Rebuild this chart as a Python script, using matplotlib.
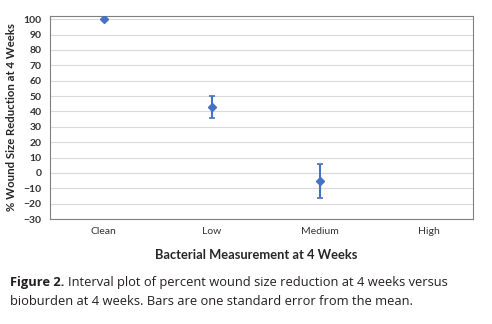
import numpy as np
import matplotlib.pyplot as plt

# data
categories = ['Clean', 'Low', 'Medium', 'High']
means = [100, 43, -5, np.nan]
std_err = [0, 7, 11, np.nan]
yticks = list(range(-30, 101, 10))

plt.rcParams['font.family'] = ['Lato', 'DejaVu Sans']

fig = plt.figure(figsize=(4.92, 3.24), dpi=100)
ax = fig.add_axes([0.1016, 0.324, 0.8594, 0.627])

x = np.arange(len(categories))
ax.errorbar(x, means, yerr=std_err, fmt='D', color='#4472C4', markersize=4.5,
            elinewidth=1.5, capsize=2.5, capthick=1.2, zorder=3)

ax.set_xlim(-0.495, 3.41)
ax.set_ylim(-30, 102.2)
ax.set_yticks(yticks)
ax.set_xticks(x)
ax.set_xticklabels(categories)
ax.yaxis.grid(True, color='#d9d9d9', linewidth=0.8)
ax.set_axisbelow(True)
for s in ax.spines.values():
    s.set_color('#808080')
    s.set_linewidth(0.8)
ax.tick_params(axis='both', length=0, colors='#333333')
ax.tick_params(axis='y', labelsize=7.5, pad=6)
ax.tick_params(axis='x', labelsize=7.5, pad=6)
for lab in ax.get_yticklabels():
    lab.set_fontweight('bold')

ax.set_ylabel('% Wound Size Reduction at 4 Weeks', fontsize=8.2, fontweight='bold',
              color='#262626', labelpad=5)
fig.text(0.52, 0.213, 'Bacterial Measurement at 4 Weeks', ha='center', va='center',
         fontsize=9.3, fontweight='bold', color='#262626')

cap_font = ['Open Sans', 'DejaVu Sans']
t1 = fig.text(0.02, 0.127, 'Figure 2.', fontsize=9.3, fontweight='bold', color='#231f20',
              va='center', family=cap_font)
fig.canvas.draw()
bb = t1.get_window_extent().transformed(fig.transFigure.inverted())
fig.text(bb.x1 + 0.008, 0.127, 'Interval plot of percent wound size reduction at 4 weeks versus',
         fontsize=9.3, color='#231f20', va='center', family=cap_font)
fig.text(0.02, 0.068, 'bioburden at 4 weeks. Bars are one standard error from the mean.',
         fontsize=9.3, color='#231f20', va='center', family=cap_font)

fig.savefig('out.png', dpi=100)
